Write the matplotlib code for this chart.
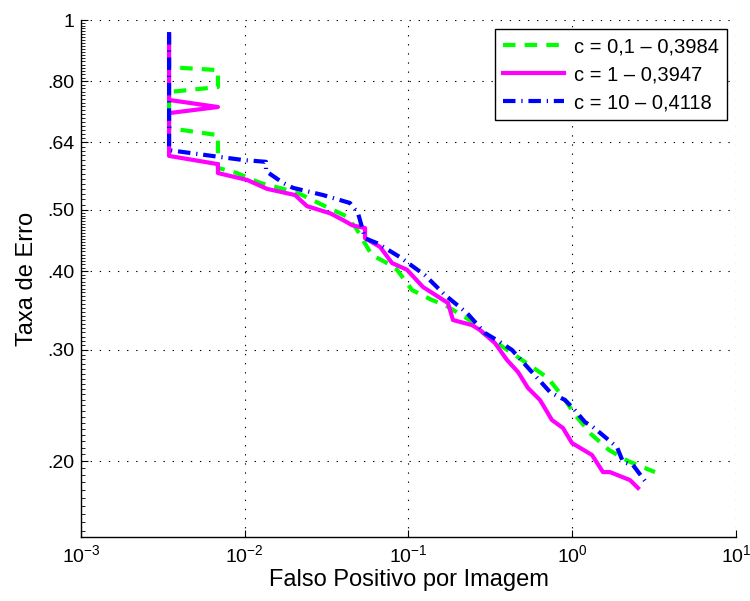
import matplotlib
matplotlib.use("Agg")
import matplotlib.pyplot as plt
import numpy as np
from matplotlib.ticker import FixedLocator, NullLocator, LogLocator

plt.rcParams['font.family'] = ['Liberation Sans', 'DejaVu Sans']
plt.rcParams['mathtext.fontset'] = 'custom'
plt.rcParams['mathtext.rm'] = 'Liberation Sans'
plt.rcParams['mathtext.it'] = 'Liberation Sans'

# ---- data (fppi, miss rate) ----
fp_c01 = [0.00345, 0.00345, 0.00686, 0.00686, 0.00345, 0.00345, 0.00686, 0.00686,
          0.00897, 0.01239, 0.01713, 0.02175, 0.0309, 0.0415, 0.0478, 0.0527,
          0.0598, 0.0719, 0.0851, 0.1051, 0.1391, 0.1671, 0.2477, 0.2851,
          0.3777, 0.5368, 0.711, 0.878, 1.054, 1.302, 1.676, 2.190, 3.201]
mr_c01 = [0.947, 0.842, 0.833, 0.783, 0.769, 0.674, 0.657, 0.583,
          0.572, 0.552, 0.540, 0.530, 0.507, 0.489, 0.468, 0.448,
          0.424, 0.4136, 0.402, 0.3733, 0.360, 0.3534, 0.3321, 0.3191,
          0.3032, 0.2850, 0.2708, 0.2527, 0.2358, 0.2207, 0.2083, 0.2000, 0.1921]

fp_c1 = [0.00345, 0.00345, 0.00686, 0.00345, 0.00345, 0.00686, 0.00686, 0.01032,
         0.01368, 0.02027, 0.0240, 0.0332, 0.0398, 0.0452, 0.0543, 0.0543,
         0.0670, 0.0793, 0.0979, 0.1226, 0.1743, 0.1870, 0.2443, 0.2733,
         0.3375, 0.3995, 0.4665, 0.5368, 0.6355, 0.752, 0.878, 0.9966,
         1.320, 1.541, 1.700, 2.253, 2.521]
mr_c1 = [0.947, 0.747, 0.728, 0.712, 0.609, 0.591, 0.572, 0.558,
         0.540, 0.528, 0.507, 0.494, 0.482, 0.473, 0.468, 0.451,
         0.437, 0.412, 0.402, 0.3775, 0.356, 0.3346, 0.3285, 0.3226,
         0.3076, 0.2892, 0.2768, 0.2611, 0.2499, 0.2323, 0.2256, 0.2136,
         0.2045, 0.1921, 0.1921, 0.1866, 0.1813]

fp_c10 = [0.00345, 0.00345, 0.00631, 0.00976, 0.01348, 0.01348, 0.01713, 0.01971,
          0.03005, 0.0439, 0.0492, 0.0543, 0.0642, 0.0887, 0.1261, 0.1671,
          0.2277, 0.2932, 0.3621, 0.4286, 0.552, 0.7313, 0.903, 1.011,
          1.196, 1.339, 1.876, 2.042, 2.350, 2.901]
mr_c10 = [0.957, 0.622, 0.609, 0.600, 0.596, 0.576, 0.552, 0.542,
          0.528, 0.5129, 0.494, 0.451, 0.443, 0.421, 0.394, 0.3666,
          0.3432, 0.3191, 0.3088, 0.300, 0.2789, 0.2573, 0.2499, 0.2427,
          0.2306, 0.2265, 0.2105, 0.1993, 0.1971, 0.1833]

labels = ['c = 0,1 \u2013 0,3984', 'c = 1 \u2013 0,3947', 'c = 10 \u2013 0,4118']
yticks = [0.20, 0.30, 0.40, 0.50, 0.64, 0.80, 1.0]
yticklabels = ['.20', '.30', '.40', '.50', '.64', '.80', '1']

fig = plt.figure(figsize=(7.5, 6.01), dpi=100)
ax = fig.add_axes([0.108, 0.1065, 0.8733, 0.8602])

ax.plot(fp_c01, mr_c01, color='#00FF00', lw=3, dashes=(3, 2.2), label=labels[0])
ax.plot(fp_c1, mr_c1, color='#FF00FF', lw=3, label=labels[1])
ax.plot(fp_c10, mr_c10, color='#0000FF', lw=3, dashes=(3, 1.4, 0.3, 1.4), label=labels[2])

ax.set_xscale('log')
ax.set_yscale('log')
ax.set_xlim(1e-3, 10)
ax.set_ylim(0.1516, 1.0)

ax.xaxis.set_major_locator(LogLocator(base=10, numticks=10))
ax.xaxis.set_minor_locator(NullLocator())
ax.yaxis.set_major_locator(FixedLocator(yticks))
ax.set_yticklabels(yticklabels)
minor_y = np.concatenate([np.arange(0.155, 0.5, 0.005), np.arange(0.51, 1.0, 0.01)])
ax.yaxis.set_minor_locator(FixedLocator(minor_y))
ax.yaxis.set_minor_formatter(plt.NullFormatter())

ax.tick_params(which='major', direction='in', length=5, width=0.8, labelsize=14, pad=5)
ax.tick_params(which='minor', direction='in', length=3, width=0.6)

for s in ['top', 'right']:
    ax.spines[s].set_visible(False)
for s in ['left', 'bottom']:
    ax.spines[s].set_linewidth(1.0)

ax.grid(True, which='major', color='#000000', lw=0.8, dashes=(1.2, 7))

ax.set_xlabel('Falso Positivo por Imagem', fontsize=17, labelpad=2)
ax.set_ylabel('Taxa de Erro', fontsize=17, labelpad=6)

leg = ax.legend(loc='upper right', fontsize=14.5, frameon=True, fancybox=False,
                edgecolor='black', framealpha=1, handlelength=3.0,
                handletextpad=0.5, labelspacing=0.45, borderpad=0.4,
                borderaxespad=0.45)
leg.get_frame().set_linewidth(1.0)

fig.savefig('out.png', dpi=100)
